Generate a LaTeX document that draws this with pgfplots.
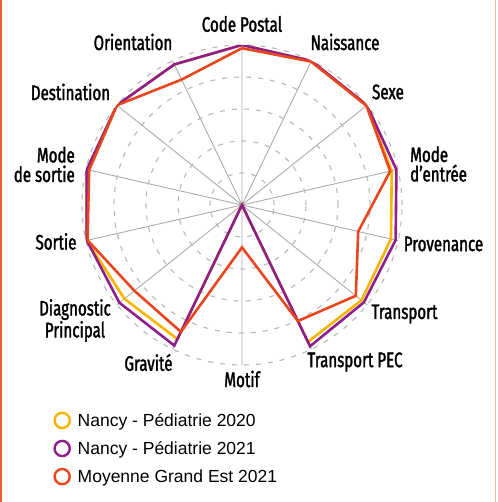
\documentclass[border=0pt]{standalone}
\usepackage{fontspec}
\usepackage{pgfplots}
\pgfplotsset{compat=1.18}
\usepgfplotslibrary{polar}
\setmainfont{Liberation Sans}
\newfontfamily\labfont[FakeStretch=0.72, FakeBold=1.6]{Fira Sans}
\definecolor{c2020}{HTML}{F7B500}
\definecolor{c2021}{HTML}{8E1E8A}
\definecolor{cmoy}{HTML}{E8461E}
\definecolor{edgeL}{HTML}{F05A28}
\definecolor{edgeR}{HTML}{F5B5A0}

\begin{document}
\begin{tikzpicture}
\useasboundingbox (-242pt,205pt) rectangle (255pt,-297pt);
\fill[white] (-242pt,205pt) rectangle (255pt,-297pt);
\draw[edgeL, line width=1.6pt] (-241.2pt,205pt) -- (-241.2pt,-297pt);
\draw[edgeR, line width=1.2pt] (253.8pt,205pt) -- (253.8pt,-297pt);
\begin{polaraxis}[
    at={(0,0)}, anchor=center,
    scale only axis, width=320pt, height=320pt,
    xmin=0, xmax=360, ymin=0, ymax=100,
    xtick={90,64.286,38.571,12.857,347.143,321.429,295.714,270,244.286,218.571,192.857,167.143,141.429,115.714},
    xticklabels={}, ytick={20,40,60,80,100}, yticklabels={},
    major tick length=0pt,
    axis line style={draw=none},
    xmajorgrids, ymajorgrids,
    x grid style={color=black!33, line width=0.9pt},
    y grid style={color=black!28, line width=1.1pt, dash pattern=on 5pt off 7pt},
    legend image code/.code={
        \draw[#1, line width=2.4pt, fill=none] (0pt,0pt) circle (7.6pt);
        \path[draw=none] (0pt,0pt) -- (14pt,0pt);},
    legend cell align=left,
    legend style={at={(axis description cs:-0.09,-0.145)}, anchor=north west,
        draw=none, fill=none, inner sep=0pt, row sep=10.5pt,
        font=\fontsize{17.5}{20}\selectfont, nodes={inner sep=1.5pt}},
]
\addplot[color=c2020, line width=2.6pt, line join=miter] coordinates {
    (90,100)(64.286,100)(38.571,99.5)(12.857,96)(347.143,95.5)(321.429,95.5)(295.714,95)
    (270,0)(244.286,93)(218.571,94)(192.857,99.5)(167.143,99.5)(141.429,100)(115.714,97.5)(90,100)
};
\addlegendentry{Nancy - Pédiatrie 2020}
\addplot[color=c2021, line width=2.6pt, line join=miter] coordinates {
    (90,100)(64.286,100)(38.571,100)(12.857,99)(347.143,98.5)(321.429,97.5)(295.714,98)
    (270,0)(244.286,97.5)(218.571,98)(192.857,99.5)(167.143,99.5)(141.429,100)(115.714,97.5)(90,100)
};
\addlegendentry{Nancy - Pédiatrie 2021}
\addplot[color=cmoy, line width=2.6pt, line join=miter] coordinates {
    (90,98)(64.286,99.5)(38.571,99.5)(12.857,95)(347.143,74.5)(321.429,91)(295.714,80.5)
    (270,26.5)(244.286,88)(218.571,86)(192.857,99)(167.143,98)(141.429,100)(115.714,87)(90,98)
};
\addlegendentry{Moyenne Grand Est 2021}
\end{polaraxis}
\begin{scope}[every node/.style={font=\labfont\fontsize{21}{19.5}\selectfont, inner sep=0pt}]
\node at (0pt,181pt) {Code Postal};
\node at (103pt,163pt) {Naissance};
\node at (146pt,113pt) {Sexe};
\node[anchor=west, align=left] at (168pt,41pt) {Mode\\d’entrée};
\node at (201.5pt,-39pt) {Provenance};
\node at (162.5pt,-109pt) {Transport};
\node at (113pt,-157pt) {Transport PEC};
\node at (0pt,-174pt) {Motif};
\node at (-93.5pt,-157.5pt) {Gravité};
\node[align=center] at (-167pt,-115.5pt) {Diagnostic\\Principal};
\node at (-186pt,-36.5pt) {Sortie};
\node[anchor=east, align=right] at (-167pt,40.5pt) {Mode\\de sortie};
\node at (-171.5pt,113pt) {Destination};
\node at (-109pt,163pt) {Orientation};
\end{scope}
\end{tikzpicture}
\end{document}
